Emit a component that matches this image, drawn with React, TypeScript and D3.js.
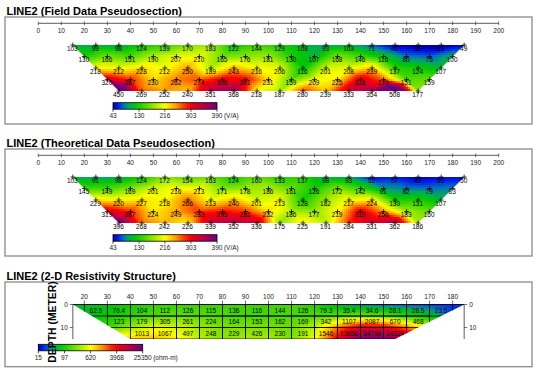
import React, { useMemo } from 'react';
import * as d3 from 'd3';

// ---------- data ----------
const xTicks = d3.range(0, 201, 10);
const pseudoRowStarts = [15, 20, 25, 30, 35];
const fieldRow1 = [103, 99, 98, 124, 139, 170, 183, 122, 144, 129, 108, 93, 103, 71, 42, 35, 31, 49];
const fieldRow2 = [130, 166, 151, 190, 207, 210, 165, 176, 181, 130, 107, 168, 146, 116, 80, 75, 100];
const fieldRow3 = [218, 212, 228, 212, 250, 189, 243, 216, 206, 116, 201, 208, 239, 137, 124, 107];
const fieldRow4 = [320, 287, 230, 262, 274, 306, 301, 231, 159, 209, 225, 316, 270, 151, 159];
const fieldRow5 = [450, 269, 252, 240, 351, 368, 218, 187, 280, 239, 333, 354, 508, 177];
const theoRow1 = [103, 91, 98, 124, 172, 154, 163, 124, 160, 133, 137, 98, 93, 52, 57, 42, 50, 50];
const theoRow2 = [145, 149, 169, 201, 216, 213, 171, 178, 186, 161, 126, 172, 142, 91, 82, 79, 83];
const theoRow3 = [229, 220, 227, 218, 266, 213, 240, 201, 213, 128, 182, 217, 224, 130, 131, 107];
const theoRow4 = [319, 287, 224, 249, 283, 295, 282, 232, 186, 177, 219, 310, 256, 183, 160];
const theoRow5 = [396, 268, 242, 226, 339, 352, 336, 175, 225, 191, 284, 331, 362, 186];
const pseudoColorTicks = [43, 130, 216, 303, 390];

const modelTicks = d3.range(20, 181, 10);
const modelRowStarts = [20, 30, 40];
const modelDepths = [0, 5, 10, 15];
const modelRow1 = [62.5, 76.4, 104, 112, 126, 115, 136, 116, 144, 126, 79.3, 35.4, 34.6, 28.1, 28.5, 23.5];
const modelRow2 = [123, 179, 305, 261, 224, 164, 153, 162, 169, 342, 1107, 2087, 670, 468];
const modelRow3 = [1013, 1067, 497, 248, 229, 426, 230, 191, 1546, 13658, 34790, 14324];
const modelColorTicks = [15, 97, 620, 3968, 25350];
const depthTicks = [0, 10];

const fieldRows = [fieldRow1, fieldRow2, fieldRow3, fieldRow4, fieldRow5];
const theoRows = [theoRow1, theoRow2, theoRow3, theoRow4, theoRow5];
const modelRows = [modelRow1, modelRow2, modelRow3];

// ---------- scales ----------
const FONT = "'Liberation Sans', Arial, sans-serif";
const xs = d3.scaleLinear().domain([0, 200]).range([38.3, 498.7]);
const UNIT = (xs(10) - xs(0)) / 10;
const DY = 5 * UNIT;
const palette = d3
  .scaleLinear<string>()
  .domain([0, 0.05, 0.1, 0.15, 0.22, 0.35, 0.5, 0.6, 0.73, 0.86, 1])
  .range(['#0000b0', '#0020f0', '#0070c0', '#00a860', '#00c800', '#70e000', '#ffff00', '#ffa000', '#ff0000', '#c00040', '#700080'])
  .interpolate(d3.interpolateRgb)
  .clamp(true);
const pseudoT = d3.scaleLinear().domain([43, 390]).range([0, 1]).clamp(true);
const modelT = d3.scaleLog().domain([15, 25350]).range([0, 1]).clamp(true);
const pseudoBar = d3.scaleLinear().domain([43, 390]).range([113, 217]);
const modelBar = d3.scaleLog().domain([15, 25350]).range([38.3, 142.7]);
const ds = d3.scaleLinear().domain([0, 15]).range([304.5, 304.5 + 15 * UNIT]);

type Cell = { x: number; y: number; f: string };

function pseudoCells(rows: number[][], y0: number): Cell[] {
  const pts = rows.map((vals, r) => vals.map((v, i) => ({ x: xs(pseudoRowStarts[r] + 10 * i), y: y0 + r * DY, v })));
  const strips: any[][] = [];
  for (let r = 0; r < 4; r++) {
    const P = pts[r], Q = pts[r + 1];
    const tris: any[] = [];
    for (let i = 0; i < P.length - 1; i++) tris.push([P[i], P[i + 1], Q[i]]);
    for (let j = 0; j < Q.length - 1; j++) tris.push([Q[j], Q[j + 1], P[j + 1]]);
    strips.push(tris);
  }
  const cells: Cell[] = [];
  const x0 = Math.floor(xs(15)), x1 = Math.ceil(xs(185));
  const yA = Math.floor(y0), yB = Math.ceil(y0 + 4 * DY);
  for (let py = yA; py < yB; py += 2) {
    const cy = py + 1;
    const f = Math.max(0, Math.min(1, (cy - y0) / (4 * DY)));
    const left = xs(15 + 20 * f), right = xs(185 - 20 * f);
    const r = Math.max(0, Math.min(3, Math.floor((cy - y0) / DY)));
    for (let px = x0; px < x1; px += 2) {
      const cx = px + 1;
      if (cx + 3 < left || cx - 3 > right) continue;
      let best: any = null, bestS = -Infinity, bl: number[] = [];
      for (const t of strips[r]) {
        const [a, b, c] = t;
        const det = (b.y - c.y) * (a.x - c.x) + (c.x - b.x) * (a.y - c.y);
        const l1 = ((b.y - c.y) * (cx - c.x) + (c.x - b.x) * (cy - c.y)) / det;
        const l2 = ((c.y - a.y) * (cx - c.x) + (a.x - c.x) * (cy - c.y)) / det;
        const l3 = 1 - l1 - l2;
        const s = Math.min(l1, l2, l3);
        if (s > bestS) { bestS = s; best = t; bl = [l1, l2, l3]; }
      }
      const w = bl.map((v) => Math.max(0, v));
      const sw = w[0] + w[1] + w[2];
      const v = (w[0] * best[0].v + w[1] * best[1].v + w[2] * best[2].v) / sw;
      cells.push({ x: px, y: py, f: palette(pseudoT(v)) });
    }
  }
  return cells;
}

function modelCells(): Cell[] {
  // log value of a model block, or null when the block does not exist
  const block = (r: number, c: number): number | null => {
    if (r < 0 || r > 2) return null;
    const off = (modelRowStarts[r] - 20) / 10;
    const k = c - off;
    if (k < 0 || k >= modelRows[r].length) return null;
    return Math.log10(modelRows[r][k]);
  };
  // node values at block corners (x = 20 + 10c, depth = 5k)
  const N: number[][] = [];
  for (let k = 0; k <= 3; k++) {
    const row: (number | null)[] = [];
    for (let c = 0; c <= 16; c++) {
      const vs = [block(k - 1, c - 1), block(k - 1, c), block(k, c - 1), block(k, c)].filter((v) => v !== null) as number[];
      row.push(vs.length ? d3.mean(vs)! : null);
    }
    const filled = row.map((v, c) => {
      if (v !== null) return v;
      let best: number | null = null, bd = Infinity;
      row.forEach((w, j) => { if (w !== null && Math.abs(j - c) < bd) { bd = Math.abs(j - c); best = w; } });
      return best as number;
    });
    N.push(filled);
  }
  const cells: Cell[] = [];
  const x0 = Math.floor(xs(15)), x1 = Math.ceil(xs(185));
  const yA = Math.floor(ds(0)), yB = Math.ceil(ds(15));
  for (let py = yA; py < yB; py += 2) {
    const d = ds.invert(py + 1);
    const f = Math.max(0, Math.min(1, d / 15));
    const left = xs(15 + 25 * f), right = xs(185 - 30 * f);
    const kk = Math.max(0, Math.min(3, d / 5));
    const k0 = Math.min(2, Math.floor(kk)), fk = kk - k0;
    for (let px = x0; px < x1; px += 2) {
      const cx = px + 1;
      if (cx + 3 < left || cx - 3 > right) continue;
      const x = xs.invert(cx);
      const cc = Math.max(0, Math.min(16, (x - 20) / 10));
      const c0 = Math.min(15, Math.floor(cc)), fc = cc - c0;
      const top = N[k0][c0] * (1 - fc) + N[k0][c0 + 1] * fc;
      const bot = N[k0 + 1][c0] * (1 - fc) + N[k0 + 1][c0 + 1] * fc;
      const lv = top * (1 - fk) + bot * fk;
      cells.push({ x: px, y: py, f: palette(modelT(Math.pow(10, lv))) });
    }
  }
  return cells;
}

const fmt = (v: number) => (v < 100 && !Number.isInteger(v) ? v.toFixed(1) : String(v));

function Colorbar({ id, x0, x1, y, ticks, scale, unit }: any) {
  const stops = d3.range(0, 1.0001, 0.05);
  return (
    <g>
      <defs>
        <linearGradient id={id} x1="0" x2="1" y1="0" y2="0">
          {stops.map((s) => (
            <stop key={s} offset={s} stopColor={palette(s)} />
          ))}
        </linearGradient>
      </defs>
      <rect x={x0} y={y} width={x1 - x0} height={6.5} fill={`url(#${id})`} stroke="#000" strokeWidth={0.8} />
      {ticks.map((t: number, i: number) => {
        const x = scale(t);
        const label = String(t);
        const last = i === ticks.length - 1;
        return (
          <g key={t}>
            <line x1={x} x2={x} y1={y + 6.5} y2={y + 9} stroke="#000" strokeWidth={0.7} />
            <text x={x} y={y + 15.5} fontSize={6.5} textAnchor="middle" fontFamily={FONT} fill="#222">{label}</text>
            {last && (
              <text x={x + label.length * 1.8 + 1.5} y={y + 15.5} fontSize={6.5} fontFamily={FONT} fill="#222">{unit}</text>
            )}
          </g>
        );
      })}
    </g>
  );
}

function PseudoPanel({ title, rows, oy, id }: any) {
  const y0 = oy + 45;
  const cells = useMemo(() => pseudoCells(rows, y0), [rows, y0]);
  const yEnd = y0 + 4 * DY;
  const clip = `${xs(15)},${y0} ${xs(185)},${y0} ${xs(165)},${yEnd} ${xs(35)},${yEnd}`;
  return (
    <g>
      <text x={6.5} y={oy + 14.5} fontSize={11} fontWeight="bold" fontFamily={FONT}>{title}</text>
      <rect x={5} y={oy + 17} width={527} height={107} fill="#fff" stroke="#8a8a8a" strokeWidth={1.3} />
      <line x1={xs(0)} x2={xs(200)} y1={oy + 23.3} y2={oy + 23.3} stroke="#333" strokeWidth={0.8} />
      {xTicks.map((t) => (
        <g key={t}>
          <line x1={xs(t)} x2={xs(t)} y1={oy + 21.5} y2={oy + 25.2} stroke="#333" strokeWidth={0.7} />
          <text x={xs(t)} y={oy + 33} fontSize={6.5} textAnchor="middle" fontFamily={FONT} fill="#222">{t}</text>
        </g>
      ))}
      <defs>
        <clipPath id={`clip-${id}`}>
          <polygon points={clip} />
        </clipPath>
      </defs>
      <g clipPath={`url(#clip-${id})`} shapeRendering="crispEdges">
        {cells.map((c, i) => (
          <rect key={i} x={c.x} y={c.y} width={2} height={2} fill={c.f} />
        ))}
      </g>
      {rows.map((vals: number[], r: number) =>
        vals.map((v: number, i: number) => {
          const x = xs(pseudoRowStarts[r] + 10 * i);
          const y = y0 + r * DY;
          return (
            <g key={`${r}-${i}`}>
              <path d={`M${x - 2.5},${y}H${x + 2.5}M${x},${y - 2.5}V${y + 2.5}`} stroke="#000" strokeWidth={0.75} />
              <text x={x - 0.5} y={y + 5.8} fontSize={6.5} textAnchor="middle" fontFamily={FONT} fill="#000">{v}</text>
            </g>
          );
        })
      )}
      <Colorbar id={`bar-${id}`} x0={113} x1={217} y={oy + 102.7} ticks={pseudoColorTicks} scale={pseudoBar} unit="(V/A)" />
    </g>
  );
}

function ModelPanel() {
  const oy = 265;
  const cells = useMemo(() => modelCells(), []);
  const clip = `${xs(15)},${ds(0)} ${xs(185)},${ds(0)} ${xs(155)},${ds(15)} ${xs(40)},${ds(15)}`;
  return (
    <g>
      <text x={6.5} y={oy + 14.5} fontSize={11} fontWeight="bold" fontFamily={FONT}>LINE2 (2-D Resistivity Structure)</text>
      <rect x={5} y={oy + 17} width={527} height={84.7} fill="#fff" stroke="#8a8a8a" strokeWidth={1.3} />
      <defs>
        <clipPath id="clip-model">
          <polygon points={clip} />
        </clipPath>
      </defs>
      <g clipPath="url(#clip-model)">
        <g shapeRendering="crispEdges">
          {cells.map((c, i) => (
            <rect key={i} x={c.x} y={c.y} width={2} height={2} fill={c.f} />
          ))}
        </g>
        {modelRows.map((vals, r) =>
          vals.map((v, i) => {
            const a = modelRowStarts[r] + 10 * i;
            return (
              <g key={`${r}-${i}`}>
                <rect x={xs(a)} y={ds(modelDepths[r])} width={xs(a + 10) - xs(a)} height={ds(modelDepths[r + 1]) - ds(modelDepths[r])} fill="none" stroke="#000" strokeWidth={0.8} />
                <text x={xs(a + 5)} y={(ds(modelDepths[r]) + ds(modelDepths[r + 1])) / 2 + 2.3} fontSize={6.5} textAnchor="middle" fontFamily={FONT} fill="#000">{fmt(v)}</text>
              </g>
            );
          })
        )}
      </g>
      <line x1={xs(15)} x2={xs(185)} y1={ds(0)} y2={ds(0)} stroke="#000" strokeWidth={0.9} />
      {modelTicks.map((t) => (
        <g key={t}>
          <line x1={xs(t)} x2={xs(t)} y1={ds(0) - 4} y2={ds(0)} stroke="#333" strokeWidth={0.7} />
          <text x={xs(t)} y={ds(0) - 5.5} fontSize={6.5} textAnchor="middle" fontFamily={FONT} fill="#222">{t}</text>
        </g>
      ))}
      <line x1={xs(15)} x2={xs(15)} y1={ds(0)} y2={ds(15)} stroke="#333" strokeWidth={0.8} />
      <line x1={xs(185)} x2={xs(185)} y1={ds(0)} y2={ds(15)} stroke="#333" strokeWidth={0.8} />
      {depthTicks.map((d) => (
        <g key={d}>
          <line x1={xs(15) - 3} x2={xs(15)} y1={ds(d)} y2={ds(d)} stroke="#333" strokeWidth={0.7} />
          <text x={xs(15) - 5} y={ds(d) + 2.3} fontSize={6.5} textAnchor="end" fontFamily={FONT} fill="#222">{d}</text>
          <line x1={xs(185)} x2={xs(185) + 3} y1={ds(d)} y2={ds(d)} stroke="#333" strokeWidth={0.7} />
          <text x={xs(185) + 5} y={ds(d) + 2.3} fontSize={6.5} textAnchor="start" fontFamily={FONT} fill="#222">{d}</text>
        </g>
      ))}
      <Colorbar id="bar-model" x0={38.3} x1={142.7} y={344.3} ticks={modelColorTicks} scale={modelBar} unit="(ohm-m)" />
      <text transform="translate(55.8,322) rotate(-90)" fontSize={10.4} fontWeight="bold" textAnchor="middle" fontFamily={FONT} fill="#000">DEPTH (METER)</text>
    </g>
  );
}

export default function App() {
  return (
    <svg width={536} height={375} style={{ position: 'absolute', left: 0, top: 0, display: 'block', background: '#fff' }}>
      <rect x={0} y={0} width={536} height={375} fill="#fff" />
      <PseudoPanel title="LINE2 (Field Data Pseudosection)" rows={fieldRows} oy={0} id="field" />
      <PseudoPanel title="LINE2 (Theoretical Data Pseudosection)" rows={theoRows} oy={132} id="theo" />
      <ModelPanel />
    </svg>
  );
}
